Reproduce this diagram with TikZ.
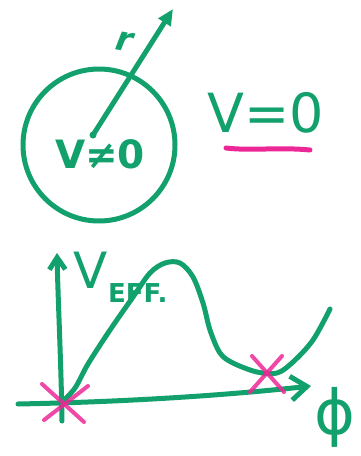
\documentclass[tikz,border=0pt]{standalone}
\usepackage{fontspec}
\setmainfont{DejaVu Sans}
\usetikzlibrary{arrows.meta,calc}
\definecolor{mkgreen}{RGB}{18,160,108}
\definecolor{mkpink}{RGB}{236,40,150}
\tikzset{
  marker/.style={draw=mkgreen, line width=5pt, line cap=round, line join=round},
  pinkmark/.style={draw=mkpink, line width=4pt, line cap=round, opacity=0.85},
  handtext/.style={text=mkgreen, inner sep=0pt},
}
\begin{document}
\begin{tikzpicture}[x=1pt,y=-1pt]
\useasboundingbox (0,0) rectangle (360,456);
% top part
\node[circle, marker, minimum size=152pt, inner sep=0pt] (disk) at (99,145) {};
\coordinate (rstart) at (93,135);
\coordinate (rtip) at (173,9);
\draw[marker, -{Triangle[length=16pt,width=14pt]}] (rstart) -- (rtip);
\fill[mkgreen] (rstart) circle (3.5pt);
\node[handtext, font=\fontsize{34}{34}\selectfont\bfseries\itshape, rotate=-10] (rlabel) at (124,42) {r};
\node[handtext, font=\fontsize{39}{39}\selectfont\bfseries] (vneq) at (100,154) {V≠0};
\node[handtext, font=\fontsize{54}{54}\selectfont] (veq) at (266,113) {V=0};
\coordinate (ul1) at (226,148);
\coordinate (ul2) at (310,150);
\draw[draw=mkpink, line width=5pt, line cap=round] (ul1) .. controls (250,151) and (280,147) .. (ul2);
% bottom graph
\coordinate (o) at (62,402);
\coordinate (ytop) at (57,253);
\coordinate (ybot) at (62,421);
\coordinate (xleft) at (18,404);
\coordinate (xright) at (311,386);
\draw[marker, -{Straight Barb[length=12pt,width=16pt,line width=5pt]}] (ybot) .. controls (61,360) and (58,300) .. (ytop);
\draw[marker, -{Straight Barb[length=16pt,width=24pt,line width=5pt]}] (xleft) .. controls (120,402) and (220,396) .. (xright);
\draw[marker] plot[smooth, tension=0.55] coordinates {(62,402) (75,388) (88,364) (110,330) (133,297) (150,273) (165,263) (180,263) (193,277) (203,303) (210,330) (220,353) (233,363) (257,372) (277,373) (293,362) (313,340) (330,309)};
\node[handtext, font=\fontsize{50}{50}\selectfont] (V) at (91,270) {V};
\node[handtext, font=\fontsize{26}{26}\selectfont\bfseries, anchor=west] (eff) at (108,293) {EFF.};
\node[handtext, font=\fontsize{62}{62}\selectfont] (phi) at (335,417) {ϕ};
% pink crosses
\coordinate (c1) at (62,402);
\coordinate (c2) at (266,376);
\draw[pinkmark] ($(c1)+(-20,-18)$) -- ($(c1)+(22,20)$);
\draw[pinkmark] ($(c1)+(-18,18)$) -- ($(c1)+(26,-16)$);
\draw[pinkmark] ($(c2)+(-14,-20)$) -- ($(c2)+(18,16)$);
\draw[pinkmark] ($(c2)+(-16,16)$) -- ($(c2)+(16,-20)$);
\end{tikzpicture}
\end{document}
